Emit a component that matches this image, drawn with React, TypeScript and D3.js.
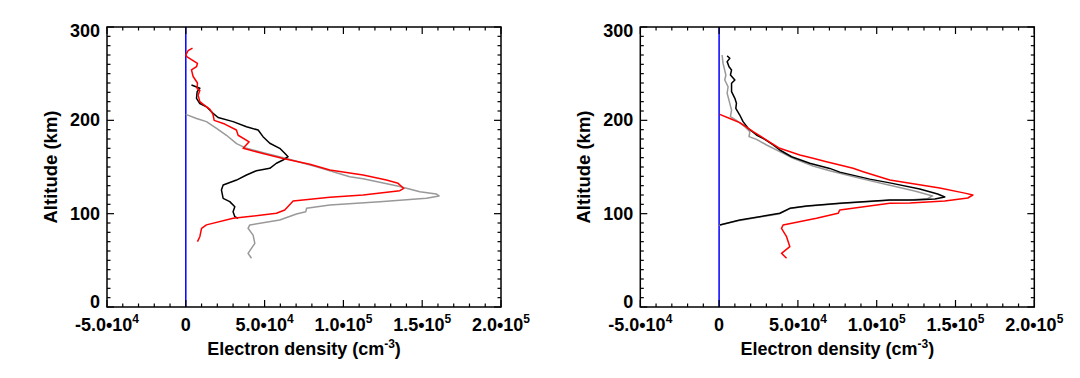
import React from "react";
import * as d3 from "d3";

type Pt = [number, number];

// [electron density (cm^-3), altitude (km)]
const leftRed: Pt[] = [
  [4250, 277.3], [1480, 274.6], [0, 270], [825, 268], [3600, 265], [7400, 261], [6800, 257.5], [3600, 254],
  [4650, 247], [7400, 240], [7200, 234], [8900, 232], [7800, 227], [8900, 220], [12700, 215], [15200, 212],
  [17300, 206], [18000, 200], [24700, 196], [32100, 189.6], [33200, 184], [40200, 177], [36400, 170],
  [49000, 164.5], [61700, 159], [78700, 153], [91400, 146.8], [112500, 141.4], [127300, 136], [134700, 132.5],
  [138300, 127], [135800, 124.6], [112500, 120], [91400, 117.5], [68100, 113.5], [62800, 104], [57500, 100.4],
  [30000, 95], [13100, 88], [10000, 84.3], [8900, 75.3], [7400, 70],
];
const leftGray: Pt[] = [
  [0, 206.4], [6800, 202], [13100, 198.6], [19500, 191.5], [25800, 184], [32200, 175], [38500, 170],
  [51200, 164.6], [63900, 159], [82900, 150.3], [104000, 139.5], [112500, 137.5], [135800, 129], [148500, 123.5],
  [159000, 121], [160700, 119], [152700, 116.4], [123100, 112.9], [91400, 109.3], [76600, 105.7], [76100, 102],
  [70200, 99.6], [59600, 93.2], [40600, 87.9], [39500, 84.3], [42700, 77], [43800, 68.2], [39500, 57.5],
  [41700, 52.2],
];
const leftBlack: Pt[] = [
  [3600, 237.9], [8900, 234.3], [7200, 230.7], [6800, 223.6], [8900, 218], [13100, 214.6], [17300, 207.5],
  [20500, 203], [30000, 198.6], [38500, 193.2], [45900, 189.6], [49000, 182.5], [53300, 175.4], [59600, 170],
  [62800, 164.7], [64900, 161], [61700, 157.5], [57500, 154], [53300, 148.6], [44800, 146], [38500, 141.4],
  [32200, 136], [23700, 130.7], [22600, 125.4], [23700, 116.4], [27900, 112.9], [31100, 107.5], [30000, 102],
  [31100, 96.8], [33200, 95],
];

const rightBlack: Pt[] = [
  [5100, 269], [6800, 266.5], [5100, 262.9], [6300, 257.5], [7900, 254], [7200, 248.6], [10000, 243.2],
  [7900, 239.7], [7900, 230.7], [10000, 223.6], [11000, 218.2], [10600, 212.9], [13100, 205.7], [15200, 198.6],
  [18400, 191.5], [23700, 184.3], [29000, 179.6], [34300, 173.6], [38500, 168.2], [46000, 161], [57500, 154],
  [70200, 148.5], [76600, 144.5], [95600, 137], [108300, 133], [127300, 126.4], [138700, 121], [143200, 117.9],
  [136900, 115.7], [124100, 114.6], [108300, 114.6], [76600, 111.1], [55500, 108.2], [44900, 105.7],
  [38500, 100.4], [13100, 93.2], [400, 87.9],
];
const rightGray: Pt[] = [
  [1900, 270], [2500, 261], [4300, 248.6], [3600, 243.2], [5700, 236], [5100, 229], [6800, 218.2], [7900, 211],
  [7200, 203.9], [11000, 200], [16300, 193.2], [19500, 187.9], [19000, 182.5], [23700, 179.6], [30100, 173.6],
  [38500, 166.4], [47000, 159.3], [59600, 151], [70200, 146], [91400, 137], [108300, 130.5], [124100, 124.3],
  [135500, 119], [132400, 116.3], [121000, 114.6], [108300, 114.3], [76600, 110.8], [55500, 108], [44900, 105.5],
  [38500, 100], [13100, 92.8], [0, 87.5],
];
const rightRed: Pt[] = [
  [400, 206.4], [6800, 202], [13100, 197.5], [21600, 187.9], [30100, 178.9], [38500, 170], [51200, 162.9],
  [59600, 159.3], [68100, 155.7], [76600, 152.1], [85000, 148.6], [91400, 145], [108300, 136], [140000, 127.5],
  [155900, 122], [161000, 120], [157800, 116.8], [143200, 113.6], [121000, 111.5], [108300, 111.1], [76600, 104],
  [75500, 100.4], [61800, 95], [40600, 87.9], [39600, 84.3], [42800, 75.3], [44900, 64.6], [39600, 57.5],
  [42800, 52.2],
];

const xTickValues = [-50000, 0, 50000, 100000, 150000, 200000];
const xTickMantissa = ["-5.0", "0", "5.0", "1.0", "1.5", "2.0"];
const xTickExponent = ["4", "", "4", "5", "5", "5"];
const yTickValues = [0, 100, 200, 300];

const COLORS = { red: "#ff0000", gray: "#999999", black: "#000000", blue: "#0000ff" };
const FONT = "'Liberation Sans', Arial, Helvetica, sans-serif";

function Panel({ left, series }: { left: number; series: { data: Pt[]; color: string }[] }) {
  const x0 = left, x1 = left + 394, yTop = 27, yBot = 307;
  const x = d3.scaleLinear().domain([-50000, 200000]).range([x0, x1]);
  const y = d3.scaleLinear().domain([0, 300]).range([yBot, yTop]);
  const line = d3.line<Pt>().x((d) => x(d[0])).y((d) => y(d[1]));
  const minorX = d3.range(-50000, 200001, 10000);
  const minorY = d3.range(0, 301, 10);
  const ticks: JSX.Element[] = [];
  minorX.forEach((v, i) => {
    const major = v % 50000 === 0;
    const L = major ? 7 : 3.5;
    ticks.push(<line key={"xb" + i} x1={x(v)} x2={x(v)} y1={yBot} y2={yBot - L} />);
    ticks.push(<line key={"xt" + i} x1={x(v)} x2={x(v)} y1={yTop} y2={yTop + L} />);
  });
  minorY.forEach((v, i) => {
    const major = v % 100 === 0;
    const L = major ? 7 : 3.5;
    ticks.push(<line key={"yl" + i} x1={x0} x2={x0 + L} y1={y(v)} y2={y(v)} />);
    ticks.push(<line key={"yr" + i} x1={x1} x2={x1 - L} y1={y(v)} y2={y(v)} />);
  });
  return (
    <g>
      <line x1={x(0)} x2={x(0)} y1={yBot} y2={yTop} stroke={COLORS.blue} strokeWidth={1.5} />
      {series.map((s, i) => (
        <path key={i} d={line(s.data) || ""} fill="none" stroke={s.color} strokeWidth={1.5} strokeLinejoin="round" />
      ))}
      <g stroke="#000" strokeWidth={1.2}>
        {ticks}
        <rect x={x0} y={yTop} width={x1 - x0} height={yBot - yTop} fill="none" strokeWidth={1.5} />
      </g>
      <g fontFamily={FONT} fontWeight="bold" fontSize={18} fill="#000">
        {yTickValues.map((v) => {
          const cy = Math.min(Math.max(y(v), yTop + 4), yBot - 5.5);
          return (
            <text key={v} x={x0 - 7} y={cy} textAnchor="end" dominantBaseline="central">{v}</text>
          );
        })}
        {xTickValues.map((v, i) => (
          <text key={v} x={x(v)} y={331} textAnchor="middle">
            {xTickMantissa[i]}
            {xTickExponent[i] && (
              <>
                <tspan>{"•10"}</tspan>
                <tspan fontSize={12} dy={-8}>{xTickExponent[i]}</tspan>
              </>
            )}
          </text>
        ))}
        <text x={(x0 + x1) / 2} y={355} textAnchor="middle" fontSize={18}>
          Electron density (cm<tspan fontSize={12} dy={-7}>-3</tspan><tspan dy={7}>)</tspan>
        </text>
        <text transform={`translate(${x0 - 57},${(yTop + yBot) / 2}) rotate(-90)`} textAnchor="middle"
          dominantBaseline="central" fontSize={18.5}>Altitude (km)</text>
      </g>
    </g>
  );
}

export default function App() {
  return (
    <svg width={1080} height={378} style={{ position: "absolute", left: 0, top: 0, background: "#fff" }}>
      <rect width={1080} height={378} fill="#fff" />
      <Panel left={107} series={[
        { data: leftGray, color: COLORS.gray },
        { data: leftBlack, color: COLORS.black },
        { data: leftRed, color: COLORS.red },
      ]} />
      <Panel left={640.3} series={[
        { data: rightGray, color: COLORS.gray },
        { data: rightBlack, color: COLORS.black },
        { data: rightRed, color: COLORS.red },
      ]} />
    </svg>
  );
}
